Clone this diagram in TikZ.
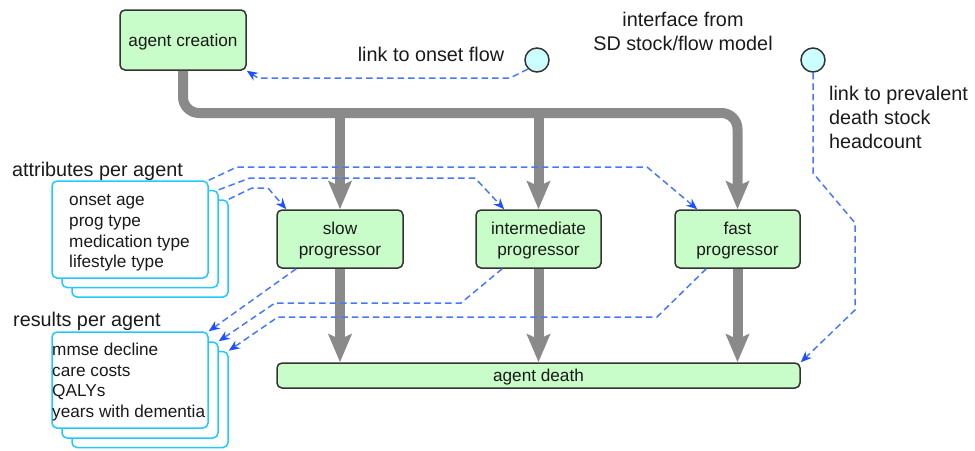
\documentclass[tikz,border=0pt]{standalone}
\usepackage{fontspec}
\setmainfont{Liberation Sans}
\usetikzlibrary{arrows.meta,calc}
\definecolor{boxgreen}{HTML}{C8FCC8}
\definecolor{boxedge}{HTML}{333333}
\definecolor{linkblue}{HTML}{4577FF}
\definecolor{tipblue}{HTML}{1E50FF}
\definecolor{flowgray}{HTML}{8A8A8A}
\definecolor{stackcyan}{HTML}{22C8FF}
\definecolor{portfill}{HTML}{CCFFFF}
\definecolor{inktext}{HTML}{1A1A1A}

\begin{document}
\begin{tikzpicture}[x=1pt,y=-1pt,
  every node/.style={text=inktext},
  stepbox/.style={draw=boxedge, fill=boxgreen, line width=1.5pt, rounded corners=5pt,
    align=center, inner sep=0pt, text depth=0pt, font=\fontsize{17.2}{20.5}\selectfont},
  port/.style={circle, draw=boxedge, fill=portfill, line width=1.5pt,
    minimum size=24pt, inner sep=0pt},
  card/.style={draw=stackcyan, fill=white, line width=1.5pt, rounded corners=5pt,
    minimum width=156pt, inner sep=0pt},
  flow/.style={draw=flowgray, line width=10pt, -{Stealth[length=28pt,width=23pt,inset=5pt]}},
  link/.style={draw=linkblue, line width=1.5pt, dash pattern=on 6.5pt off 4pt,
    -{Stealth[length=11pt,width=9pt,color=tipblue]}},
  caption/.style={font=\fontsize{19.8}{24}\selectfont, inner sep=0pt},
  cardtext/.style={font=\fontsize{17.2}{20.7}\selectfont, align=left, inner sep=0pt}
]
\useasboundingbox (0,0) rectangle (975,450);

% model steps
\node[stepbox, minimum width=126pt, minimum height=60pt] (creation) at (183,40) {agent creation};
\node[stepbox, minimum width=126pt, minimum height=58pt] (slow) at (340,239) {slow\\progressor};
\node[stepbox, minimum width=125pt, minimum height=58pt] (inter) at (538.5,239) {intermediate\\progressor};
\node[stepbox, minimum width=125pt, minimum height=58pt] (fast) at (737.5,239) {fast\\progressor};
\node[stepbox, minimum width=523pt, minimum height=25pt] (death) at (538.5,375.5) {agent death};

% interface ports
\node[port] (port1) at (537,60) {};
\node[port] (port2) at (813,60) {};

% stacked attribute cards
\node[card, minimum height=97pt] (attrC) at (150,248.5) {};
\node[card, minimum height=97pt] (attrB) at (140,239) {};
\node[card, minimum height=97pt] (attrA) at (130,229.5) {};
\node[cardtext, anchor=west] (attrtext) at (69,233)
  {onset age\\prog type\\medication type\\lifestyle type};

% stacked result cards
\node[card, minimum height=96pt] (resC) at (150,399.5) {};
\node[card, minimum height=96pt] (resB) at (140,390) {};
\node[card, minimum height=96pt] (resA) at (130,380) {};
\node[cardtext, anchor=west] (restext) at (52,382)
  {mmse decline\\care costs\\QALYs\\years with dementia};

% captions
\node[caption, anchor=base west] (attrlabel) at (12,176) {attributes per agent};
\node[caption, anchor=base west] (reslabel) at (13,326) {results per agent};
\node[caption, anchor=base] (onsetlabel) at (431,61) {link to onset flow};
\node[caption, align=center] (sdlabel) at (683,31) {interface from\\SD stock/flow model};
\node[caption, align=left, anchor=west] (prevlabel) at (829,117)
  {link to prevalent\\death stock\\headcount};

% agent flow
\coordinate (bus) at (0,113);
\draw[flow, rounded corners=16pt] (creation.south) |- (fast.north |- bus) -- (fast.north);
\draw[flow] (slow.north |- bus) -- (slow.north);
\draw[flow] (inter.north |- bus) -- (inter.north);
\draw[flow] (slow.south) -- (slow.south |- death.north);
\draw[flow] (inter.south) -- (inter.south |- death.north);
\draw[flow] (fast.south) -- (fast.south |- death.north);

% information links
\draw[link] (port1.south west) -- (510,78) -- (258,78) -- (creation.south east);
\draw[link] (port2.south) -- (813,173) -- (855,223) -- (855,310) -- (death.north east);

\draw[link] (attrA.north east) -- (237,167) -- (647,167) -- ([xshift=23pt]fast.north west);
\draw[link] (attrB.north east) -- (250,178) -- (475,178) -- ([xshift=29pt]inter.north west);
\draw[link] (attrC.north east) -- (252,188) -- (268,188) -- ([xshift=10pt]slow.north west);

\draw[link] ([xshift=20pt]slow.south west) -- (resA.north east);
\draw[link] ([xshift=27pt]inter.south west) -- (461,303) -- (275,303) -- (resB.north east);
\draw[link] ([xshift=32pt]fast.south west) -- (657,317) -- (278,317) -- (resC.north east);
\end{tikzpicture}
\end{document}
